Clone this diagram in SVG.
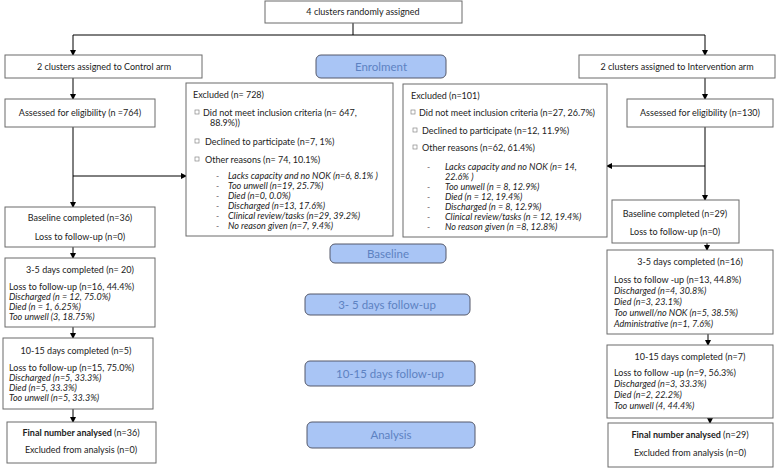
<svg xmlns="http://www.w3.org/2000/svg" width="778" height="469" viewBox="0 0 778 469">
<defs>
<style>
.box{fill:#fff;stroke:#6b6b6b;stroke-width:1}
.phase{fill:#a9c5f5;stroke:#55596a;stroke-width:1}
.t{font-family:Lato,"Open Sans",sans-serif;font-size:9px;fill:#222}
.c{text-anchor:middle}
.i{font-style:italic}
.b{font-weight:bold}
.p{font-family:Lato,"Open Sans",sans-serif;font-size:11.5px;fill:#5d82c2;text-anchor:middle}
.ln{stroke:#000;stroke-width:1;fill:none}
.bul{fill:#fff;stroke:#888;stroke-width:0.7}
</style>
<marker id="ah" markerWidth="6" markerHeight="6" refX="5" refY="3" orient="auto" markerUnits="userSpaceOnUse">
<path d="M0,0 L6,3 L0,6 Z" fill="#000"/>
</marker>
</defs>
<rect width="778" height="469" fill="#fff"/>

<g id="connectors">
<path class="ln" d="M353,23 V35"/>
<path class="ln" d="M73,35 H705"/>
<path class="ln" d="M73,35 V55" marker-end="url(#ah)"/>
<path class="ln" d="M705,35 V55" marker-end="url(#ah)"/>
<path class="ln" d="M73,78 V99" marker-end="url(#ah)"/>
<path class="ln" d="M705,78 V99" marker-end="url(#ah)"/>
<path class="ln" d="M73,127 V207" marker-end="url(#ah)"/>
<path class="ln" d="M73,176 H186" marker-end="url(#ah)"/>
<path class="ln" d="M705,127 V200" marker-end="url(#ah)"/>
<path class="ln" d="M705,166 H607" marker-end="url(#ah)"/>
<path class="ln" d="M73,247 V258" marker-end="url(#ah)"/>
<path class="ln" d="M73,327 V338" marker-end="url(#ah)"/>
<path class="ln" d="M73,409 V422" marker-end="url(#ah)"/>
<path class="ln" d="M707,243 V250" marker-end="url(#ah)"/>
<path class="ln" d="M708,334 V345" marker-end="url(#ah)"/>
<path class="ln" d="M710,418 V423" marker-end="url(#ah)"/>
</g>

<g id="top">
<rect class="box" x="265" y="1" width="197" height="22"/>
<text class="t c" x="363" y="15">4 clusters randomly assigned</text>
</g>

<g id="control-arm">
<rect class="box" x="5" y="55" width="197" height="23"/>
<text class="t c" x="104" y="69.5">2 clusters assigned to Control arm</text>
</g>

<g id="intervention-arm">
<rect class="box" x="579" y="55" width="196" height="23"/>
<text class="t c" x="677" y="69.5">2 clusters assigned to Intervention arm</text>
</g>

<g id="phase-enrolment">
<rect class="phase" x="316" y="55" width="130" height="23" rx="5"/>
<text class="p" x="381" y="70.5">Enrolment</text>
</g>

<g id="assessed-control">
<rect class="box" x="5" y="99" width="150" height="28"/>
<text class="t c" x="80" y="116">Assessed for eligibility (n =764)</text>
</g>

<g id="assessed-intervention">
<rect class="box" x="627" y="99" width="146" height="28"/>
<text class="t c" x="700" y="116">Assessed for eligibility (n=130)</text>
</g>

<g id="excluded-control">
<rect class="box" x="186" y="83" width="207" height="153"/>
<text class="t" x="193" y="98">Excluded (n= 728)</text>
<rect class="bul" x="195" y="110" width="4" height="4"/>
<text class="t" x="203" y="116">Did not meet inclusion criteria (n= 647,</text>
<text class="t" x="210" y="126">88.9%))</text>
<rect class="bul" x="195" y="139" width="4" height="4"/>
<text class="t" x="205" y="145">Declined to participate (n=7, 1%)</text>
<rect class="bul" x="195" y="157" width="4" height="4"/>
<text class="t" x="205" y="163">Other reasons (n= 74, 10.1%)</text>
<g class="t i">
<text x="216" y="179">-</text><text x="228" y="179">Lacks capacity and no NOK (n=6, 8.1% )</text>
<text x="216" y="189">-</text><text x="228" y="189">Too unwell (n=19, 25.7%)</text>
<text x="216" y="199">-</text><text x="228" y="199">Died (n=0, 0.0%)</text>
<text x="216" y="209">-</text><text x="228" y="209">Discharged (n=13, 17.6%)</text>
<text x="216" y="219">-</text><text x="228" y="219">Clinical review/tasks (n=29, 39.2%)</text>
<text x="216" y="229">-</text><text x="228" y="229">No reason given (n=7, 9.4%)</text>
</g>
</g>

<g id="excluded-intervention">
<rect class="box" x="403" y="84" width="204" height="153"/>
<text class="t" x="411" y="99">Excluded (n=101)</text>
<rect class="bul" x="411" y="110" width="4" height="4"/>
<text class="t" x="419" y="116">Did not meet inclusion criteria (n=27, 26.7%)</text>
<rect class="bul" x="413" y="128" width="4" height="4"/>
<text class="t" x="422" y="134">Declined to participate (n=12, 11.9%)</text>
<rect class="bul" x="413" y="145" width="4" height="4"/>
<text class="t" x="422" y="151">Other reasons (n=62, 61.4%)</text>
<g class="t i">
<text x="427" y="170">-</text><text x="445" y="170">Lacks capacity and no NOK (n= 14,</text>
<text x="445" y="180">22.6% )</text>
<text x="427" y="190">-</text><text x="445" y="190">Too unwell (n = 8, 12.9%)</text>
<text x="427" y="200">-</text><text x="445" y="200">Died (n = 12,  19.4%)</text>
<text x="427" y="210">-</text><text x="445" y="210">Discharged (n = 8, 12.9%)</text>
<text x="427" y="220">-</text><text x="445" y="220">Clinical review/tasks (n = 12, 19.4%)</text>
<text x="427" y="230">-</text><text x="445" y="230">No reason given (n =8, 12.8%)</text>
</g>
</g>

<g id="phase-baseline">
<rect class="phase" x="330" y="244" width="116" height="19" rx="5"/>
<text class="p" x="388" y="257.5">Baseline</text>
</g>

<g id="phase-3-5">
<rect class="phase" x="305" y="294" width="165" height="21" rx="5"/>
<text class="p" x="387" y="308.5">3- 5 days follow-up</text>
</g>

<g id="phase-10-15">
<rect class="phase" x="305" y="361" width="170" height="25" rx="5"/>
<text class="p" x="390" y="377.5">10-15 days follow-up</text>
</g>

<g id="phase-analysis">
<rect class="phase" x="307" y="422" width="168" height="26" rx="5"/>
<text class="p" x="391" y="439">Analysis</text>
</g>

<g id="baseline-control">
<rect class="box" x="5" y="207" width="150" height="40"/>
<text class="t c" x="80" y="221">Baseline completed (n=36)</text>
<text class="t c" x="80" y="240">Loss to follow-up (n=0)</text>
</g>

<g id="d35-control">
<rect class="box" x="5" y="258" width="150" height="69"/>
<text class="t c" x="80" y="273">3-5 days completed (n= 20)</text>
<text class="t" x="9" y="290">Loss to follow-up (n=16, 44.4%)</text>
<text class="t i" x="9" y="300">Discharged (n = 12, 75.0%)</text>
<text class="t i" x="9" y="310">Died (n = 1, 6.25%)</text>
<text class="t i" x="9" y="320">Too unwell (3, 18.75%)</text>
</g>

<g id="d1015-control">
<rect class="box" x="3" y="338" width="150" height="71"/>
<text class="t c" x="76" y="354">10-15 days completed (n=5)</text>
<text class="t" x="9" y="371">Loss to follow-up (n=15, 75.0%)</text>
<text class="t i" x="9" y="381">Discharged (n=5, 33.3%)</text>
<text class="t i" x="9" y="391">Died (n=5, 33.3%)</text>
<text class="t i" x="9" y="401">Too unwell (n=5, 33.3%)</text>
</g>

<g id="final-control">
<rect class="box" x="7" y="422" width="149" height="41"/>
<text class="t c" x="81" y="436"><tspan class="b">Final number analysed</tspan> (n=36)</text>
<text class="t c" x="81" y="453">Excluded from analysis (n=0)</text>
</g>

<g id="baseline-intervention">
<rect class="box" x="612" y="200" width="127" height="43"/>
<text class="t c" x="675" y="217">Baseline completed (n=29)</text>
<text class="t c" x="675" y="235">Loss to follow-up (n=0)</text>
</g>

<g id="d35-intervention">
<rect class="box" x="607" y="250" width="166" height="84"/>
<text class="t c" x="690" y="265">3-5 days completed (n=16)</text>
<text class="t" x="614" y="283">Loss to follow -up (n=13, 44.8%)</text>
<text class="t i" x="614" y="294">Discharged (n=4, 30.8%)</text>
<text class="t i" x="614" y="305">Died (n=3, 23.1%)</text>
<text class="t i" x="614" y="316">Too unwell/no NOK (n=5, 38.5%)</text>
<text class="t i" x="614" y="327">Administrative (n=1, 7.6%)</text>
</g>

<g id="d1015-intervention">
<rect class="box" x="607" y="345" width="166" height="73"/>
<text class="t c" x="690" y="360">10-15 days completed (n=7)</text>
<text class="t" x="614" y="376">Loss to follow -up (n=9, 56.3%)</text>
<text class="t i" x="614" y="387">Discharged (n=3, 33.3%)</text>
<text class="t i" x="614" y="398">Died (n=2, 22.2%)</text>
<text class="t i" x="614" y="409">Too unwell (4, 44.4%)</text>
</g>

<g id="final-intervention">
<rect class="box" x="608" y="423" width="165" height="44"/>
<text class="t c" x="690" y="438"><tspan class="b">Final number analysed</tspan> (n=29)</text>
<text class="t c" x="690" y="456">Excluded from analysis (n=0)</text>
</g>
</svg>
